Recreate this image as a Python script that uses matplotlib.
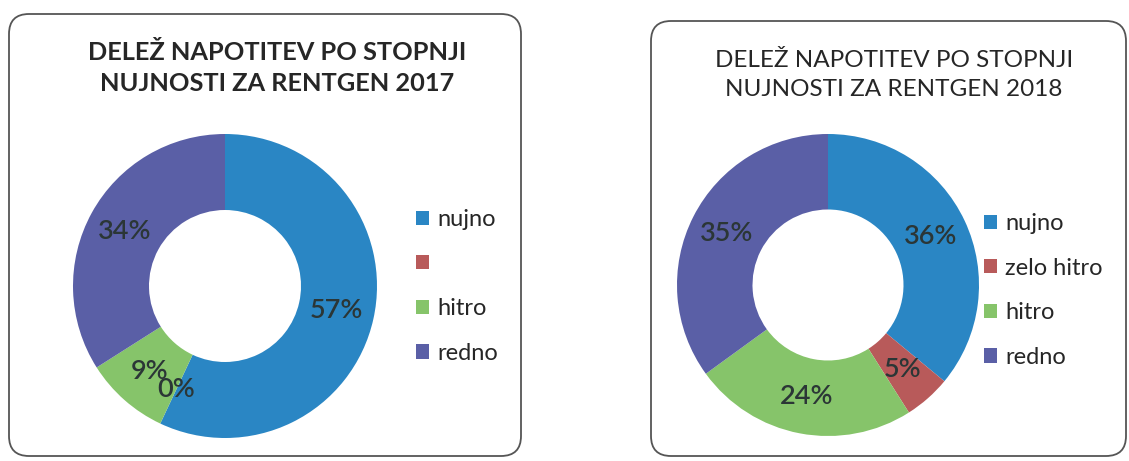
import matplotlib
matplotlib.use('Agg')
import matplotlib.pyplot as plt
from matplotlib.patches import FancyBboxPatch

plt.rcParams['font.family'] = ['Lato', 'DejaVu Sans']

# podatki
kategorije = ['nujno', 'zelo hitro', 'hitro', 'redno']
legenda_2017 = ['nujno', '', 'hitro', 'redno']
delez_2017 = [57, 0, 9, 34]
delez_2018 = [36, 5, 24, 35]
barve = ['#2a86c4', '#b85a5a', '#86c46a', '#5a5fa6']

W, H = 1129, 461
fig = plt.figure(figsize=(W / 100, H / 100), dpi=100)

# ozadje v pikslih (okvirji, naslovi)
bg = fig.add_axes([0, 0, 1, 1])
bg.set_xlim(0, W)
bg.set_ylim(H, 0)
bg.axis('off')

for (x0, y0, x1, y1) in [(9, 14, 521, 456), (651, 21, 1126, 456)]:
    bg.add_patch(FancyBboxPatch((x0 + 20, y0 + 20), x1 - x0 - 40, y1 - y0 - 40,
                                boxstyle='round,pad=20', fc='white', ec='#555555', lw=1.3))

bg.text(277, 68, 'DELEŽ NAPOTITEV PO STOPNJI\nNUJNOSTI ZA RENTGEN 2017', ha='center', va='center',
        fontsize=18.3, fontweight='bold', color='#262626', linespacing=1.45)
bg.text(894, 75, 'DELEŽ NAPOTITEV PO STOPNJI\nNUJNOSTI ZA RENTGEN 2018', ha='center', va='center',
        fontsize=17.5, color='#262626', linespacing=1.5)


def donut(cx, cy, r, vrednosti, oznake, leg_x, leg_y):
    ax = fig.add_axes([(cx - r) / W, (H - cy - r) / H, 2 * r / W, 2 * r / H])
    wedges, _, avtopct = ax.pie(vrednosti, colors=barve, startangle=90, counterclock=False,
                                 autopct=lambda p: f'{p:.0f}%', pctdistance=0.75,
                                 wedgeprops=dict(width=0.5, linewidth=0),
                                 textprops=dict(fontsize=19.5, color='#2b3636', fontweight='semibold'))
    ax.set_xlim(-1, 1)
    ax.set_ylim(-1, 1)
    ax.set_aspect('equal')
    leg = ax.legend(wedges, oznake, loc='upper left', frameon=False,
                    bbox_to_anchor=(leg_x / W, 1 - leg_y / H), bbox_transform=fig.transFigure,
                    fontsize=17, handlelength=0.55, handleheight=0.55, handletextpad=0.35,
                    labelspacing=1.0, borderaxespad=0, borderpad=0)
    for t in leg.get_texts():
        t.set_color('#262626')
    return ax


donut(225, 286, 152, delez_2017, legenda_2017, 416, 209)
donut(828, 285, 151, delez_2018, kategorije, 984, 213)

fig.savefig('out.png', dpi=100)
